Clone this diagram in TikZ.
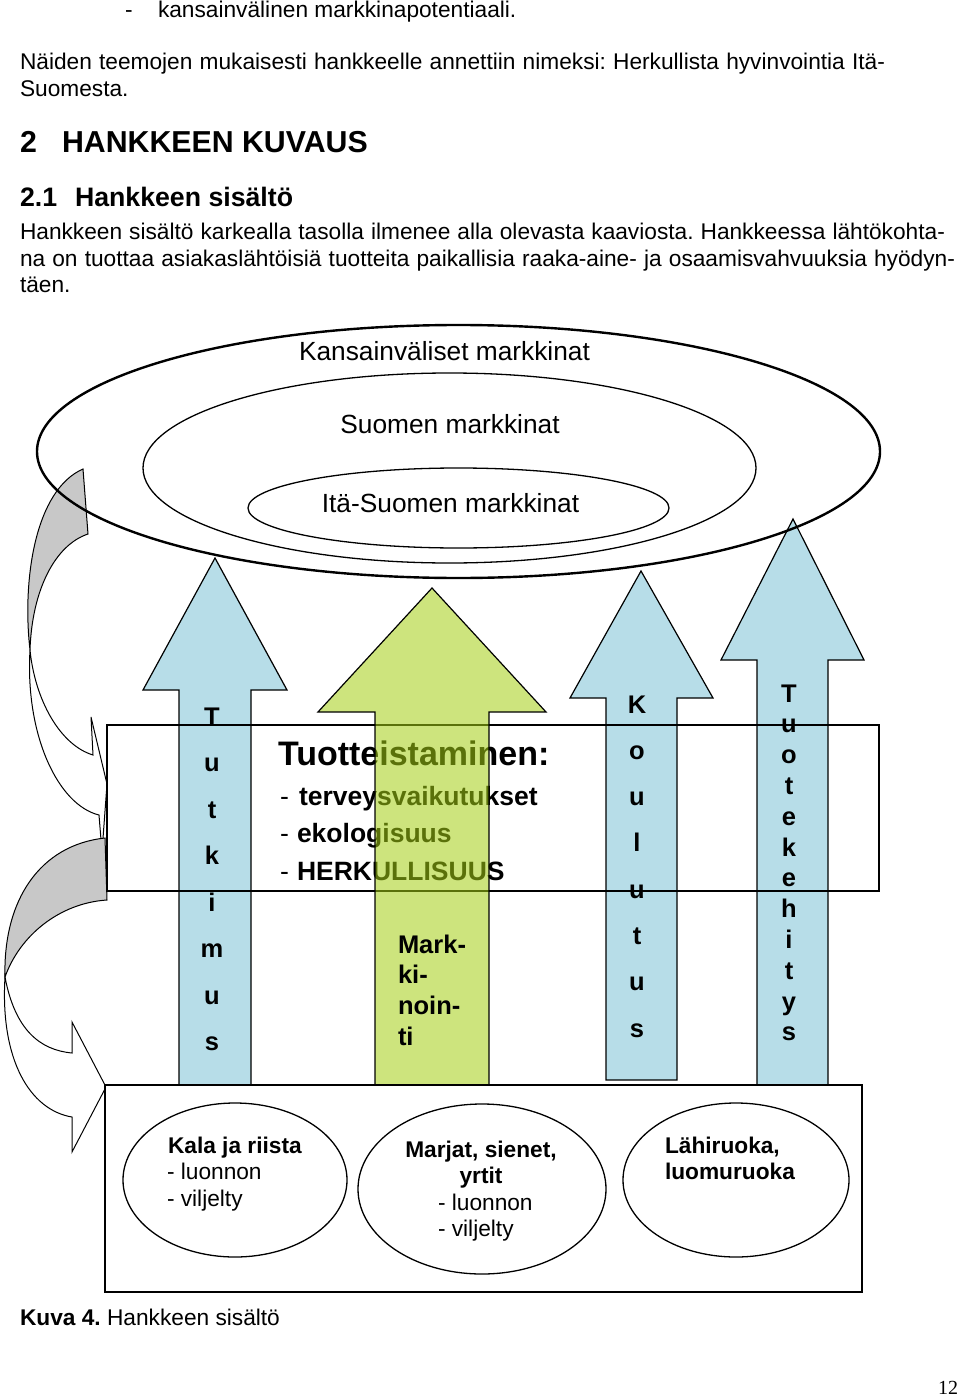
\documentclass[tikz,border=0pt]{standalone}
\usepackage{fontspec}
\setmainfont{Liberation Sans}
\newfontfamily\pagenumfont{Liberation Serif}
\definecolor{arrowblue}{RGB}{183,221,232}
\definecolor{arrowgreen}{RGB}{164,206,19}
\definecolor{bandgray}{RGB}{200,200,200}
\newcommand\fbody{\fontsize{22.7pt}{26.5pt}\selectfont}
\newcommand\fhead{\fontsize{30.3pt}{34pt}\selectfont\bfseries}
\newcommand\fsubhead{\fontsize{26.7pt}{30pt}\selectfont\bfseries}
\newcommand\fmarket{\fontsize{26.3pt}{30pt}\selectfont}
\newcommand\fboxtitle{\fontsize{34pt}{38pt}\selectfont\bfseries}
\newcommand\fboxitem{\fontsize{26.5pt}{30pt}\selectfont}
\newcommand\fvert{\fontsize{25.5pt}{30pt}\selectfont\bfseries}
\newcommand\flow{\fontsize{22.7pt}{26.5pt}\selectfont}
\frenchspacing
\begin{document}
\begin{tikzpicture}[x=1pt,y=-1pt,
  txt/.style={inner sep=0pt, outer sep=0pt, anchor=base west},
  ctxt/.style={inner sep=0pt, outer sep=0pt, anchor=base},
  blockarrow/.style={draw=black, line width=1.2pt, line join=miter},
  curvedarrow/.style={draw=black, line width=1pt, line join=miter},
  thickbox/.style={draw=black, line width=2.6pt},
  ring/.style={draw=black, line width=1.3pt},
  vlet/.style={inner sep=0pt, outer sep=0pt, anchor=base, font=\fvert}]
\useasboundingbox (0,0) rectangle (960,1396);
\fill[white] (0,0) rectangle (960,1396);

% ---- page text ----
\node[txt] (l0a) at (125,18) {\fbody -};
\node[txt] (l0b) at (158,18) {\fbody kansainvälinen markkinapotentiaali.};
\node[txt] (l1) at (20,70) {\fbody\hbox to 865pt{Näiden teemojen mukaisesti hankkeelle annettiin nimeksi: Herkullista hyvinvointia Itä-}};
\node[txt] (l2) at (20,96.5) {\fbody Suomesta.};
\node[txt] (h1a) at (20,153) {\fhead 2};
\node[txt] (h1b) at (62,153) {\fhead HANKKEEN KUVAUS};
\node[txt] (h2a) at (20,207) {\fsubhead 2.1};
\node[txt] (h2b) at (75,207) {\fsubhead Hankkeen sisältö};
\node[txt] (p1) at (20,240) {\fbody\hbox to 925pt{Hankkeen sisältö karkealla tasolla ilmenee alla olevasta kaaviosta. Hankkeessa lähtökohta-}};
\node[txt] (p2) at (20,266.5) {\fbody\hbox to 935pt{na on tuottaa asiakaslähtöisiä tuotteita paikallisia raaka-aine- ja osaamisvahvuuksia hyödyn-}};
\node[txt] (p3) at (20,293) {\fbody täen.};

% ---- curved arrows on the left ----
\draw[curvedarrow, fill=bandgray] (83,469) .. controls (35,490) and (22,580) .. (30,650)
   .. controls (32,590) and (55,545) .. (88,534) -- cycle;
\draw[curvedarrow, fill=white] (30,650) .. controls (35,700) and (60,745) .. (93,755)
   -- (91,717) -- (107,784) -- (102,852) -- (99,815)
   .. controls (58,805) and (25,735) .. (30,650) -- cycle;
\draw[curvedarrow, fill=bandgray] (105,838) .. controls (40,845) and (3,900) .. (5,977)
   .. controls (20,935) and (60,903) .. (107,900) -- cycle;
\draw[curvedarrow, fill=white] (5,977) .. controls (15,1030) and (40,1050) .. (72,1053)
   -- (72,1022) -- (106,1087) -- (72,1152) -- (72,1117)
   .. controls (30,1110) and (0,1060) .. (5,977) -- cycle;

% ---- blue block arrows ----
\draw[blockarrow, fill=arrowblue] (179,1085) -- (179,690) -- (143,690) -- (215,558) -- (287,690) -- (251,690) -- (251,1085) -- cycle;
\draw[blockarrow, fill=arrowblue] (606,1080) -- (606,698) -- (570,698) -- (641,571) -- (713,698) -- (677,698) -- (677,1080) -- cycle;
\draw[blockarrow, fill=arrowblue] (757,1085) -- (757,660) -- (721,660) -- (793,519) -- (864,660) -- (828,660) -- (828,1085) -- cycle;

% ---- product development box ----
\node[txt] (tuot) at (278,765) {\fboxtitle Tuotteistaminen:};
\node[txt] (d1) at (280,805) {\fboxitem -};
\node[txt] (i1) at (299,805) {\fboxitem\bfseries terveysvaikutukset};
\node[txt] (d2) at (280,842) {\fboxitem -};
\node[txt] (i2) at (297,842) {\fboxitem\bfseries ekologisuus};
\node[txt] (d3) at (280,880) {\fboxitem -};
\node[txt] (i3) at (297,880) {\fboxitem\bfseries HERKULLISUUS};
\draw[thickbox] (107,725) rectangle (879,891);

% ---- green arrow (translucent) ----
\draw[blockarrow, fill=arrowgreen, fill opacity=0.55] (375,1085) -- (375,712) -- (318,712) -- (432,588) -- (546,712) -- (489,712) -- (489,1085) -- cycle;
\node[txt] (mk1) at (398,953) {\fvert Mark-};
\node[txt] (mk2) at (398,983.7) {\fvert ki-};
\node[txt] (mk3) at (398,1014.4) {\fvert noin-};
\node[txt] (mk4) at (398,1045) {\fvert ti};

% ---- vertical words ----
\foreach \l [count=\i] in {T,u,t,k,i,m,u,s}
  \node[vlet] (tut\i) at (212,{725+46.5*(\i-1)}) {\l};
\foreach \l [count=\i] in {K,o,u,l,u,t,u,s}
  \node[vlet] (kou\i) at (637,{713+46.3*(\i-1)}) {\l};
\foreach \l [count=\i] in {T,u,o,t,e,k,e,h,i,t,y,s}
  \node[vlet] (tke\i) at (789,{702+30.8*(\i-1)}) {\l};

% ---- market ellipses ----
\draw[ring, line width=2.4pt] (458.5,451.5) ellipse [x radius=421.5pt, y radius=126.5pt];
\draw[ring] (449.5,468) ellipse [x radius=306.5pt, y radius=95pt];
\draw[ring] (458.5,508) ellipse [x radius=210.5pt, y radius=40pt];
\node[ctxt] (kans) at (444.5,360) {\fmarket Kansainväliset markkinat};
\node[ctxt] (suom) at (450,433) {\fmarket Suomen markkinat};
\node[ctxt] (itas) at (450.5,512) {\fmarket Itä-Suomen markkinat};

% ---- raw material box ----
\draw[thickbox, fill=white] (105,1085) rectangle (862,1292);
\draw[ring] (235,1180) ellipse [x radius=112pt, y radius=77pt];
\draw[ring] (482,1189) ellipse [x radius=124pt, y radius=85pt];
\draw[ring] (736,1180) ellipse [x radius=113pt, y radius=77pt];
\node[txt] (kala) at (168,1153) {\flow\bfseries Kala ja riista};
\node[txt] (kala2) at (167,1179.5) {\flow - luonnon};
\node[txt] (kala3) at (167,1206) {\flow - viljelty};
\node[ctxt] (marj) at (481,1157) {\flow\bfseries Marjat, sienet,};
\node[ctxt] (marj2) at (481,1183.5) {\flow\bfseries yrtit};
\node[txt] (marj3) at (438,1210) {\flow - luonnon};
\node[txt] (marj4) at (438,1236.5) {\flow - viljelty};
\node[txt] (lahi) at (665,1153) {\flow\bfseries Lähiruoka,};
\node[txt] (lahi2) at (665,1179.5) {\flow\bfseries luomuruoka};

% ---- caption and page number ----
\node[txt] (cap) at (20,1325) {\fbody\textbf{Kuva 4.} Hankkeen sisältö};
\node[txt] (pg) at (938,1394) {\pagenumfont\fontsize{20pt}{24pt}\selectfont 12};
\end{tikzpicture}
\end{document}
